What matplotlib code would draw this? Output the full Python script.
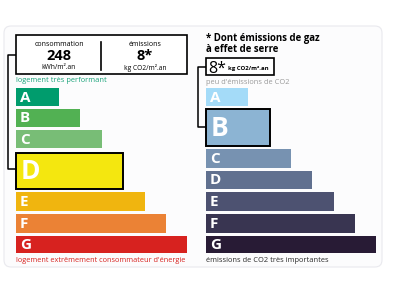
"""
Etiquette DPE : consommation d'energie + emissions de gaz a effet de serre.
"""
import matplotlib
matplotlib.use("Agg")
import matplotlib.pyplot as plt
from matplotlib.patches import FancyBboxPatch, Rectangle

plt.rcParams["font.family"] = ["Open Sans", "DejaVu Sans"]

# Donnees
CLASSES = ["A", "B", "C", "D", "E", "F", "G"]
CONSO_VALUE = "248"
CONSO_UNIT = "kWh/m².an"
GES_VALUE = "8*"
GES_UNIT = "kg CO2/m².an"
CONSO_CLASS = "D"
GES_CLASS = "B"

ENERGY_COLORS = ["#009c6d", "#52b153", "#78bd76", "#f4e70f",
                 "#f0b50f", "#eb8235", "#d7221f"]
GES_COLORS = ["#a4dbf8", "#8cb4d3", "#7792b1", "#60708f",
              "#4d5271", "#393551", "#281b35"]

# longueur des barres (px)
ENERGY_LEN = [43, 64, 86, 107, 129, 150, 171]
GES_LEN = [42, 64, 85, 106, 128, 149, 170]

# positions verticales (haut, bas) de chaque barre
ENERGY_ROWS = [(88, 106), (109, 127), (130, 148), (153, 189),
               (192, 211), (214, 233), (236, 253)]
GES_ROWS = [(88, 106), (109, 146), (149, 168), (171, 189),
            (192, 211), (214, 233), (236, 253)]

fig = plt.figure(figsize=(4, 3), dpi=100, facecolor="white")
ax = fig.add_axes([0, 0, 1, 1])
ax.set_xlim(0, 400)
ax.set_ylim(300, 0)
ax.axis("off")

# === CARTE ===
ax.add_patch(FancyBboxPatch((4, 26), 378, 241,
                            boxstyle="round,pad=0,rounding_size=7",
                            fc="#fcfcfd", ec="#e9e9ee", lw=0.8, zorder=0))


def draw_scale(x0, lens, rows, colors, active):
    for cls, ln, (top, bot), clr in zip(CLASSES, lens, rows, colors):
        big = cls == active
        ax.barh((top + bot) / 2, ln, height=bot - top, left=x0,
                color=clr, edgecolor="black" if big else "none",
                linewidth=1.4 if big else 0, zorder=3)
        ax.text(x0 + (5 if big else 4), (top + bot) / 2 + 0.5, cls,
                fontsize=19 if big else 11, fontweight="bold",
                color="white", ha="left", va="center", zorder=4)


# === ENERGIE (gauche) ===
ax.add_patch(Rectangle((16, 35), 171, 39, fc="white", ec="black",
                       lw=1.2, zorder=3))
ax.plot([101, 101], [42, 70], color="black", lw=1.2, zorder=4)
ax.text(59, 44, "consommation", fontsize=5, ha="center", va="center",
        zorder=4)
ax.text(59, 56.5, CONSO_VALUE, fontsize=10.5, fontweight="bold",
        ha="center", va="center", zorder=4)
ax.text(59, 67.5, CONSO_UNIT, fontsize=4.8, ha="center", va="center",
        zorder=4)
ax.text(145, 44, "émissions", fontsize=5, ha="center", va="center",
        zorder=4)
ax.text(145, 56.5, GES_VALUE, fontsize=10.5, fontweight="bold",
        ha="center", va="center", zorder=4)
ax.text(145, 67.5, GES_UNIT, fontsize=4.8, ha="center", va="center",
        zorder=4)

ax.text(16, 81, "logement très performant", fontsize=5.4,
        color="#1aa37a", ha="left", va="center")
draw_scale(16, ENERGY_LEN, ENERGY_ROWS, ENERGY_COLORS, CONSO_CLASS)
ax.text(16, 260, "logement extrêmement consommateur d'énergie",
        fontsize=5.35, color="#d7221f", ha="left", va="center")

# connecteur
ax.plot([16, 8, 8, 16], [55, 55, 169, 169], color="black", lw=1.1,
        zorder=2)

# === GES (droite) ===
ax.text(206, 38, "* Dont émissions de gaz", fontsize=6.9,
        fontweight="bold", ha="left", va="center")
ax.text(206, 49.5, "à effet de serre", fontsize=6.9,
        fontweight="bold", ha="left", va="center")
ax.add_patch(Rectangle((206, 58), 68, 17, fc="white", ec="black",
                       lw=1.2, zorder=3))
ax.text(208.5, 73, GES_VALUE, fontsize=11.5, ha="left", va="baseline",
        zorder=5)
ax.text(228, 70, GES_UNIT, fontsize=4.3, fontweight="bold",
        ha="left", va="baseline", zorder=5)
ax.text(206, 82, "peu d'émissions de CO2", fontsize=5.4,
        color="#9a9a9a", ha="left", va="center")
draw_scale(206, GES_LEN, GES_ROWS, GES_COLORS, GES_CLASS)
ax.text(206, 260, "émissions de CO2 très importantes", fontsize=5.4,
        color="#2a2a2a", ha="left", va="center")

ax.plot([206, 198, 198, 206], [67, 67, 127, 127], color="black",
        lw=1.1, zorder=2)

plt.savefig("out.png", dpi=100, facecolor="white")
plt.close()
